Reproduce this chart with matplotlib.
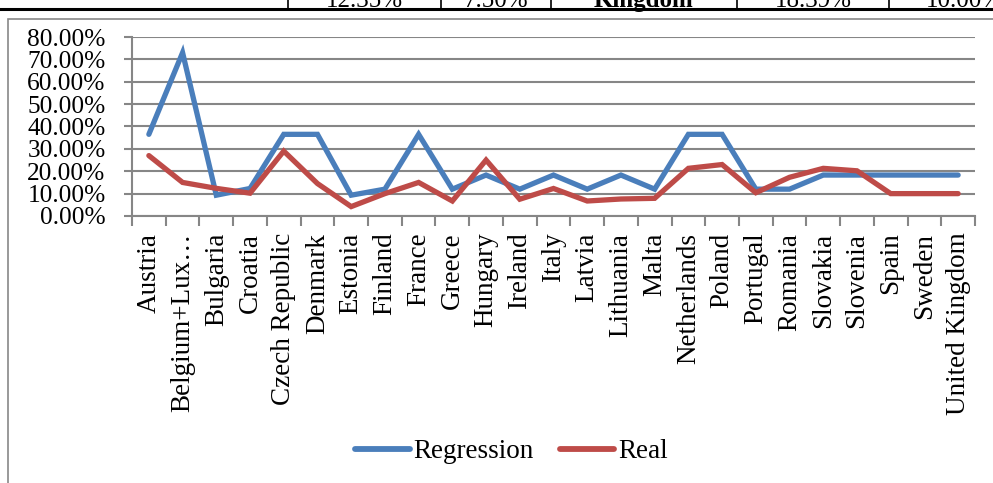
import matplotlib.pyplot as plt
from matplotlib.lines import Line2D
from matplotlib.patches import Rectangle

countries = [
    "Austria", "Belgium+Lux…", "Bulgaria", "Croatia", "Czech Republic",
    "Denmark", "Estonia", "Finland", "France", "Greece", "Hungary",
    "Ireland", "Italy", "Latvia", "Lithuania", "Malta", "Netherlands",
    "Poland", "Portugal", "Romania", "Slovakia", "Slovenia", "Spain",
    "Sweden", "United Kingdom",
]
regression = [
    36.5, 73.0, 9.3, 12.3, 36.5, 36.5, 9.3, 12.0, 36.5, 12.0, 18.3,
    12.0, 18.3, 12.0, 18.3, 12.0, 36.5, 36.5, 12.0, 12.0, 18.3, 18.3,
    18.3, 18.3, 18.3,
]
real = [
    27.0, 15.0, 12.35, 10.2, 29.0, 14.5, 4.2, 10.0, 15.0, 6.7, 25.0,
    7.5, 12.3, 6.7, 7.6, 7.9, 21.3, 23.0, 10.4, 17.3, 21.3, 20.2,
    10.0, 10.0, 10.0,
]
yticks = [0, 10, 20, 30, 40, 50, 60, 70, 80]
header_cells = ["12.35%", "7.50%", "Kingdom", "18.39%", "10.00%"]

BLUE = "#4A7EBB"
RED = "#BE4B48"
GRID = "#868686"
FONT = "Liberation Serif"
FS = 19.5

plt.rcParams.update({
    "font.family": FONT,
    "font.size": FS,
})

W, H = 993, 483
fig = plt.figure(figsize=(W / 100, H / 100), dpi=100)
ax = fig.add_axes([132 / W, 1 - 216 / H, (975 - 132) / W, (216 - 37) / H])

n = len(countries)
xs = list(range(n))
ax.plot(xs, regression, color=BLUE, lw=3.8, solid_joinstyle="miter",
        solid_capstyle="round", label="Regression", zorder=3)
ax.plot(xs, real, color=RED, lw=3.8, solid_joinstyle="miter",
        solid_capstyle="round", label="Real", zorder=3)

ax.set_xlim(-0.5, n - 0.5)
ax.set_ylim(0, 80)
ax.set_yticks(yticks)
ax.set_yticklabels([f"{v:.2f}%" for v in yticks], fontsize=18.3)
ax.yaxis.grid(True, color=GRID, lw=1.5)
ax.set_axisbelow(True)

ax.set_xticks(xs)
ax.set_xticklabels(countries, rotation=90)
ax.set_xticks([i - 0.5 for i in range(n + 1)], minor=True)
ax.tick_params(axis="x", which="major", length=0, pad=12)
ax.tick_params(axis="x", which="minor", length=7, width=1.5, color=GRID)
ax.tick_params(axis="y", length=6, width=1.5, color=GRID, pad=13)
for s in ["top", "right"]:
    ax.spines[s].set_visible(False)
for s in ["left", "bottom"]:
    ax.spines[s].set_color(GRID)
    ax.spines[s].set_linewidth(1.5)

handles = [Line2D([], [], color=BLUE, lw=4.2, solid_capstyle="round"),
           Line2D([], [], color=RED, lw=4.2, solid_capstyle="round")]
fig.legend(handles, ["Regression", "Real"], loc="center", bbox_to_anchor=(0.515, 1 - 452 / H),
           ncol=2, frameon=False, handlelength=2.0, handletextpad=0.15, columnspacing=0.95,
           fontsize=FS)

# chart frame and cut-off table row above it
fig.patches.append(Rectangle((8 / W, -0.01), 1.0, 1 - 14 / H, transform=fig.transFigure,
                             fill=False, edgecolor="#888888", lw=1.2))
fig.add_artist(Line2D([0, 1], [1 - 9 / H, 1 - 9 / H], color="black", lw=2.2, transform=fig.transFigure))
for xv in [288, 441, 551, 737, 889]:
    fig.add_artist(Line2D([xv / W, xv / W], [1 - 9 / H, 1], color="black", lw=1.2,
                          transform=fig.transFigure))
for (x0, x1), txt in zip([(288, 441), (441, 551), (551, 737), (737, 889), (889, 1040)], header_cells):
    fig.text((x0 + x1) / 2 / W, 1 - 1 / H, txt, ha="center", va="center", fontsize=18,
             fontweight="bold" if txt == "Kingdom" else "normal")

fig.savefig("out.png", dpi=100)
